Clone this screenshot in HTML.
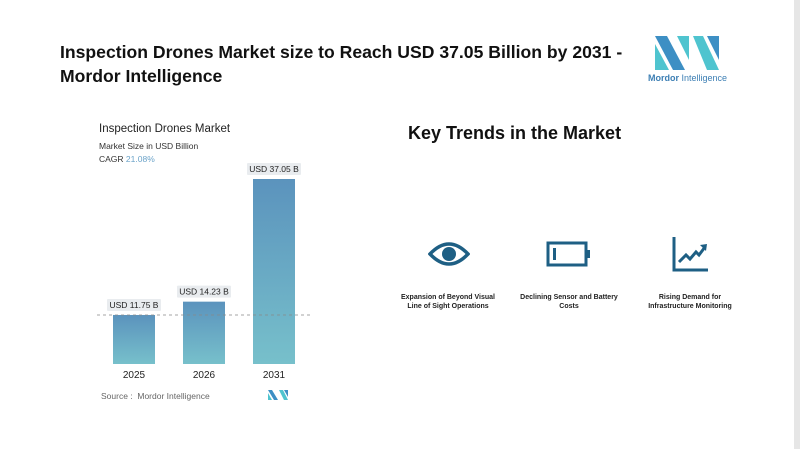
<!DOCTYPE html>
<html><head><meta charset="utf-8"><style>
html,body{margin:0;padding:0;background:#fff;}
body{width:800px;height:449px;position:relative;overflow:hidden;font-family:"Liberation Sans",sans-serif;}
.abs{position:absolute;}
.title{left:60px;top:40px;font-size:17.6px;font-weight:bold;color:#111;line-height:24px;width:600px;}
.kt{left:408px;top:123px;font-size:18px;font-weight:bold;color:#111;}
.cap{font-size:7px;font-weight:bold;color:#222;text-align:center;width:130px;line-height:9px;}
</style></head><body>
<div class="abs" style="left:794px;top:0;width:6px;height:449px;background:#e6e6e6"></div>
<div class="abs title">Inspection Drones Market size to Reach USD 37.05 Billion by 2031 -<br>Mordor Intelligence</div>
<svg class="abs" style="left:655px;top:36px" width="66" height="36">
<polygon points="0,0 12,0 30,34 18,34" fill="#3d8fc4"/><polygon points="0,8 0,34 14,34" fill="#4fc4cf"/>
<polygon points="22,0 34,0 34,24" fill="#4fc4cf"/>
<polygon points="38,0 48,0 64,34 52,34" fill="#4fc4cf"/><polygon points="52,0 64,0 64,24" fill="#3d8fc4"/>
</svg>
<div class="abs" style="left:648px;top:73px;font-size:9px;color:#3d7fb4"><b>Mordor</b> Intelligence</div>
<div class="abs" style="left:99px;top:123px;font-size:11.5px;color:#222">Inspection Drones Market</div>
<div class="abs" style="left:99px;top:141px;font-size:8.5px;color:#333">Market Size in USD Billion</div>
<div class="abs" style="left:99px;top:154px;font-size:8.5px;color:#333">CAGR <span style="color:#6ba3c9">21.08%</span></div>
<svg id="chart" class="abs" style="left:0;top:0" width="800" height="449">
<defs><linearGradient id="g" x1="0" y1="0" x2="0" y2="1"><stop offset="0" stop-color="#5b93bd"/><stop offset="1" stop-color="#77c0cb"/></linearGradient></defs>
</svg>
<div class="abs" style="left:101px;top:391px;font-size:8.5px;color:#666">Source :&nbsp; Mordor Intelligence</div>
<svg class="abs" style="left:268px;top:390px" width="20" height="10"><polygon points="0,0 4,0 10,10 6,10" fill="#3d8fc4"/><polygon points="0,3 0,10 4,10" fill="#4fc4cf"/><polygon points="11,0 15,0 20,10 16,10" fill="#4fc4cf"/><polygon points="16,0 20,0 20,7" fill="#3d8fc4"/></svg>
<div class="abs kt">Key Trends in the Market</div>
<svg class="abs" style="left:428px;top:240px" width="42" height="28"><path d="M2,14 Q21,-6 40,14 Q21,34 2,14Z" fill="none" stroke="#1e5f84" stroke-width="3.5"/><circle cx="21" cy="14" r="7" fill="#1e5f84"/></svg>
<svg class="abs" style="left:546px;top:240px" width="46" height="28"><rect x="2" y="3" width="38" height="22" fill="none" stroke="#1e5f84" stroke-width="3"/><rect x="40" y="10" width="4" height="8" fill="#1e5f84"/><rect x="7" y="8" width="3" height="12" fill="#1e5f84"/></svg>
<svg class="abs" style="left:672px;top:236px" width="38" height="36"><path d="M2,1 V34 H36" fill="none" stroke="#1e5f84" stroke-width="3"/><path d="M7,26 L14,19 L18,23 L24,16 L27,19 L33,11" fill="none" stroke="#1e5f84" stroke-width="3"/><polygon points="28,9 35,8 34,15" fill="#1e5f84"/></svg>
<div class="abs cap" style="left:383px;top:293px">Expansion of Beyond Visual<br>Line of Sight Operations</div>
<div class="abs cap" style="left:504px;top:293px">Declining Sensor and Battery<br>Costs</div>
<div class="abs cap" style="left:625px;top:293px">Rising Demand for<br>Infrastructure Monitoring</div>
<script>
const categories=["2025","2026","2031"];
const values=[11.75,14.23,37.05];
const valueLabels=["USD 11.75 B","USD 14.23 B","USD 37.05 B"];
const svg=document.getElementById('chart');
const NS="http://www.w3.org/2000/svg";
const base=364, vmin=2.63, k=185/(37.05-2.63);
function y(v){return base-(v-vmin)*k;}
function x(i){return 113+i*70;}
const bw=42;
function mk(t,a){const e=document.createElementNS(NS,t);for(const n in a)e.setAttribute(n,a[n]);svg.appendChild(e);return e;}
values.forEach((v,i)=>{
 const top=y(v);
 const r=mk('rect',{x:x(i),y:top,width:bw,height:base-top,fill:'url(#g)'});
 
 
 const bg=mk('rect',{x:x(i)+bw/2-27,y:top-16,width:54,height:12,fill:'#e9ecef',rx:1});
 
 
 const t=mk('text',{x:x(i)+bw/2,y:top-7,'text-anchor':'middle','font-size':'8.5','fill':'#222','font-family':'Liberation Sans, sans-serif'});
 t.textContent=valueLabels[i];
 
 
 const c=mk('text',{x:x(i)+bw/2,y:base+14,'text-anchor':'middle','font-size':'10','fill':'#222','font-family':'Liberation Sans, sans-serif'});
 c.textContent=categories[i];
 
 
});
const d=mk('line',{x1:97,x2:310,y1:y(values[0]),y2:y(values[0]),stroke:'#888','stroke-width':0.8,'stroke-dasharray':'3,3'});


</script>
</body></html>
